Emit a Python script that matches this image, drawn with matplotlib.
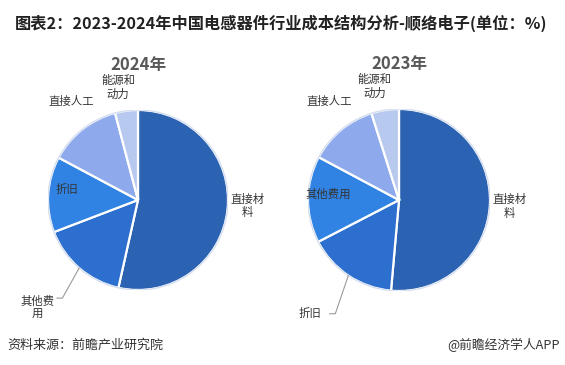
import numpy as np
import matplotlib.pyplot as plt
from matplotlib.patches import Circle

plt.rcParams['font.family'] = ['Noto Sans CJK SC', 'DejaVu Sans']

# data (%)
cats_2024 = ['直接材料', '其他费用', '折旧', '直接人工', '能源和动力']
vals_2024 = [53.5, 15.7, 13.6, 13.1, 4.1]
cats_2023 = ['直接材料', '折旧', '其他费用', '直接人工', '能源和动力']
vals_2023 = [51.4, 16.0, 15.4, 12.3, 4.9]

colors = ['#2b62b2', '#2d6fcf', '#3183e3', '#8eaaec', '#b8c9f0']

W, H = 565, 365
fig = plt.figure(figsize=(W / 100, H / 100), dpi=100)


def add_pie(cx, cy, r, year, cats, vals, texts, pos, leader):
    ax = fig.add_axes([(cx - r) / W, 1 - (cy + r) / H, 2 * r / W, 2 * r / H])
    wedges, _ = ax.pie(vals, colors=colors, startangle=90, counterclock=False,
                       radius=1, wedgeprops=dict(edgecolor='white', linewidth=1.6))
    ax.add_patch(Circle((0, 0), 1.0, fill=False, ec='#d5dff0', lw=1.0))
    ax.set_xlim(-1, 1)
    ax.set_ylim(-1, 1)
    ax.set_aspect('equal')
    ax.axis('off')
    for w, c in zip(wedges, cats):
        x, y = pos[c]
        ax.text(x, y, texts[c], ha='center', va='center', fontsize=8.2,
                color='#333333', clip_on=False, linespacing=1.25)
        if c in leader:
            mid = np.deg2rad((w.theta1 + w.theta2) / 2)
            ex, ey = np.cos(mid), np.sin(mid)
            kx, ky = leader[c]
            ax.plot([ex, kx, kx - 0.06], [ey, ky, ky], color='#9a9a9a',
                    lw=0.8, clip_on=False)
    ax.text(0, 1.5, year, ha='center', va='center', fontsize=12,
            fontweight='bold', color='#595959', clip_on=False)
    return ax


texts_2024 = {'直接材料': '直接材\n料', '其他费用': '其他费\n用', '折旧': '折旧',
              '直接人工': '直接人工', '能源和动力': '能源和\n动力'}
pos_2024 = {'直接材料': (1.22, -0.07), '其他费用': (-1.12, -1.19), '折旧': (-0.79, 0.12),
            '直接人工': (-0.74, 1.09), '能源和动力': (-0.22, 1.25)}
add_pie(138, 200, 90, '2024年', cats_2024, vals_2024, texts_2024, pos_2024,
        {'其他费用': (-0.84, -1.09)})

texts_2023 = {'直接材料': '直接材\n料', '其他费用': '其他费用', '折旧': '折旧',
              '直接人工': '直接人工', '能源和动力': '能源和\n动力'}
pos_2023 = {'直接材料': (1.21, -0.07), '其他费用': (-0.78, 0.06), '折旧': (-0.98, -1.25),
            '直接人工': (-0.77, 1.08), '能源和动力': (-0.27, 1.25)}
add_pie(399, 200, 91, '2023年', cats_2023, vals_2023, texts_2023, pos_2023,
        {'折旧': (-0.7, -1.25)})

fig.text(15 / W, 1 - 23 / H, '图表2：2023-2024年中国电感器件行业成本结构分析-顺络电子(单位：%)',
         ha='left', va='center', fontsize=11.7, fontweight='bold', color='#222222')
fig.text(7 / W, 1 - 345 / H, '资料来源：前瞻产业研究院', ha='left', va='center',
         fontsize=9.4, color='#333333')
fig.text(560 / W, 1 - 345 / H, '@前瞻经济学人APP', ha='right', va='center',
         fontsize=9.2, color='#333333')

fig.savefig('out.png', dpi=100, facecolor='white')
